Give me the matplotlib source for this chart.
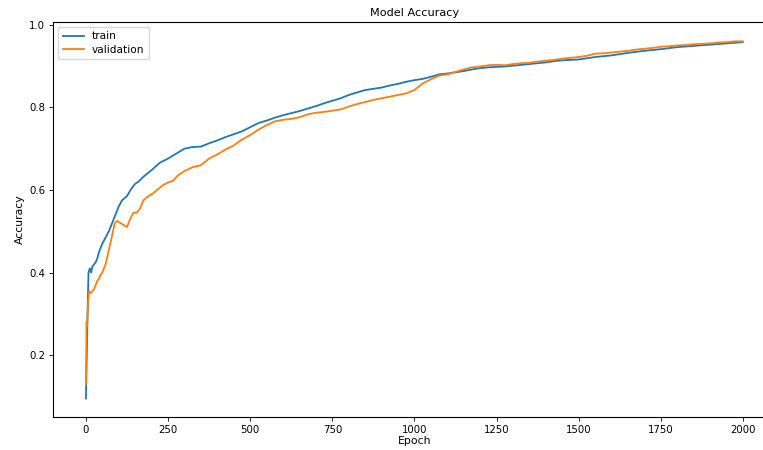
import matplotlib
matplotlib.use('Agg')
import matplotlib.pyplot as plt


# ==================== DATA ====================

train_epochs = [0, 2, 5, 8, 12, 16, 20, 25, 30, 35, 40, 50, 60, 70, 80, 90,
                100, 110, 125, 140, 150, 160, 175, 200, 225, 250, 275, 300,
                325, 350, 375, 400, 425, 450, 475, 500, 525, 550, 575, 600,
                625, 650, 675, 700, 725, 750, 775, 800, 825, 850, 875, 900,
                925, 950, 975, 1000, 1025, 1050, 1075, 1100, 1125, 1150, 1175,
                1200, 1225, 1250, 1275, 1300, 1325, 1350, 1375, 1400, 1425,
                1450, 1475, 1500, 1550, 1600, 1650, 1700, 1750, 1800, 1850,
                1900, 1950, 1999]
train_acc = [0.095, 0.17, 0.30, 0.40, 0.41, 0.40, 0.415, 0.42, 0.425, 0.435,
             0.45, 0.47, 0.485, 0.50, 0.52, 0.54, 0.56, 0.575, 0.585, 0.605,
             0.615, 0.62, 0.632, 0.648, 0.666, 0.676, 0.688, 0.700, 0.704,
             0.705, 0.713, 0.720, 0.728, 0.735, 0.742, 0.752, 0.762, 0.768,
             0.775, 0.781, 0.786, 0.791, 0.797, 0.803, 0.810, 0.816, 0.822,
             0.830, 0.836, 0.842, 0.845, 0.848, 0.853, 0.857, 0.862, 0.866,
             0.869, 0.874, 0.880, 0.882, 0.885, 0.888, 0.892, 0.895, 0.897,
             0.898, 0.899, 0.901, 0.903, 0.905, 0.907, 0.909, 0.912, 0.914,
             0.915, 0.916, 0.922, 0.926, 0.932, 0.937, 0.941, 0.946, 0.949,
             0.952, 0.955, 0.958]

val_epochs = [0, 2, 4, 7, 10, 15, 20, 25, 30, 35, 40, 45, 50, 60, 70, 80, 88,
              95, 105, 115, 125, 135, 145, 155, 165, 175, 190, 205, 220, 235,
              250, 265, 280, 300, 325, 350, 375, 400, 425, 450, 475, 500, 525,
              550, 575, 600, 625, 650, 675, 700, 725, 750, 775, 800, 825, 850,
              875, 900, 925, 950, 975, 1000, 1025, 1050, 1075, 1100, 1125,
              1150, 1175, 1200, 1225, 1250, 1275, 1300, 1325, 1350, 1375,
              1400, 1425, 1450, 1475, 1500, 1525, 1550, 1575, 1600, 1625,
              1650, 1675, 1700, 1725, 1750, 1775, 1800, 1825, 1850, 1875,
              1900, 1925, 1950, 1975, 1999]
val_acc = [0.13, 0.28, 0.27, 0.33, 0.355, 0.35, 0.355, 0.36, 0.37, 0.38,
           0.385, 0.395, 0.40, 0.42, 0.455, 0.49, 0.52, 0.525, 0.52, 0.515,
           0.51, 0.53, 0.545, 0.545, 0.555, 0.575, 0.585, 0.592, 0.602,
           0.612, 0.618, 0.622, 0.635, 0.646, 0.655, 0.660, 0.676, 0.686,
           0.698, 0.708, 0.722, 0.733, 0.746, 0.757, 0.766, 0.770, 0.772,
           0.776, 0.783, 0.787, 0.789, 0.792, 0.795, 0.802, 0.808, 0.813,
           0.818, 0.822, 0.826, 0.830, 0.834, 0.842, 0.858, 0.868, 0.877,
           0.880, 0.886, 0.892, 0.897, 0.899, 0.902, 0.903, 0.902, 0.905,
           0.907, 0.908, 0.911, 0.913, 0.915, 0.918, 0.920, 0.922, 0.925,
           0.930, 0.931, 0.933, 0.935, 0.937, 0.940, 0.942, 0.944, 0.947,
           0.948, 0.950, 0.951, 0.953, 0.954, 0.955, 0.957, 0.958, 0.960,
           0.960]

x_ticks = [0, 250, 500, 750, 1000, 1250, 1500, 1750, 2000]
y_ticks = [0.2, 0.4, 0.6, 0.8, 1.0]


# ==================== PLOT ====================

fig = plt.figure(figsize=(7.63, 4.5), dpi=100)
# the reference is cropped on the right, so the axes run past the edge
ax = fig.add_axes([0.0695, 0.0733, 0.947, 0.878])

ax.plot(train_epochs, train_acc, color='#1f77b4', lw=1.3, label='train')
ax.plot(val_epochs, val_acc, color='#ff7f0e', lw=1.3, label='validation')

ax.set_xlim(-100, 2099)
ax.set_ylim(0.05, 1.007)
ax.set_xticks(x_ticks)
ax.set_yticks(y_ticks)
ax.tick_params(labelsize=7.3, length=3, width=0.6, pad=2.5)
for s in ax.spines.values():
    s.set_linewidth(0.8)
ax.spines['right'].set_visible(False)

ax.set_title('Model Accuracy', fontsize=8.1, pad=4)
ax.set_xlabel('Epoch', fontsize=7.8, labelpad=1)
ax.set_ylabel('Accuracy', fontsize=7.8, labelpad=3)
ax.legend(loc='upper left', fontsize=7.6, borderpad=0.4,
          labelspacing=0.3, framealpha=0.8)

fig.savefig('out.png', dpi=100)
